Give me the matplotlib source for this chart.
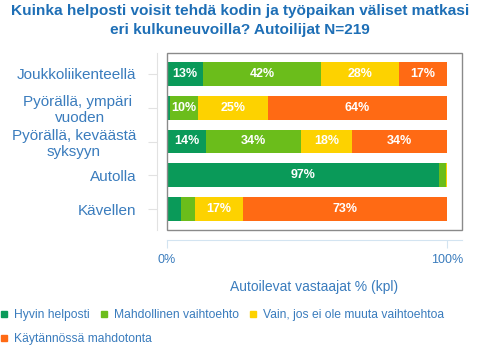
import matplotlib
matplotlib.use("Agg")
import matplotlib.pyplot as plt
from matplotlib.lines import Line2D
from matplotlib.patches import Rectangle

plt.rcParams['font.family'] = ['Liberation Sans', 'DejaVu Sans']

# ---------------------------------------------------------
# Data
# ---------------------------------------------------------
categories = ['Joukkoliikenteellä', 'Pyörällä, ympäri \nvuoden',
              'Pyörällä, keväästä\nsyksyyn', 'Autolla', 'Kävellen']
series_names = ['Hyvin helposti', 'Mahdollinen vaihtoehto',
                'Vain, jos ei ole muuta vaihtoehtoa', 'Käytännössä mahdotonta']
hyvin = [13, 1, 14, 97, 5]
mahdollinen = [42, 10, 34, 2.6, 5]
vain = [28, 25, 18, 0.4, 17]
mahdoton = [17, 64, 34, 0, 73]
x_ticks = [0, 100]
x_ticklabels = ['0%', '100%']

colors = ['#0a9a59', '#6bbd1b', '#fdd200', '#ff6a14']
title_col = '#1e6fb6'
text_col = '#3a7cbd'

# ---------------------------------------------------------
# Plot
# ---------------------------------------------------------
fig = plt.figure(figsize=(4.8, 3.51), dpi=100)
ax = fig.add_axes([167/480, 1-230/351, 295/480, 177/351])

ypos = list(range(len(categories)))
left = [0.0] * len(categories)
for vals, col, name in zip([hyvin, mahdollinen, vain, mahdoton], colors, series_names):
    bars = ax.barh(ypos, vals, left=left, height=0.71, color=col, label=name)
    for b, v in zip(bars, vals):
        if v >= 10:
            ax.text(b.get_x() + b.get_width()/2, b.get_y() + b.get_height()/2,
                    f'{v:.0f}%', ha='center', va='center', color='white',
                    fontsize=9, fontweight='bold')
    left = [l + v for l, v in zip(left, vals)]

ax.set_xlim(0, 100 * 295 / 280)
ax.set_ylim(4.62, -0.62)

ax.spines['top'].set_visible(False)
ax.spines['right'].set_visible(False)
ax.spines['left'].set_position(('outward', 7.2))
ax.spines['left'].set_color('#e2e2e2')
ax.spines['bottom'].set_position(('outward', 7.2))
ax.spines['bottom'].set_color('#d3e4f1')
ax.tick_params(axis='y', length=6.5, color='#e2e2e2', pad=8.5,
               labelcolor=text_col, labelsize=11)
ax.tick_params(axis='x', length=6, color='#d3e4f1', pad=4,
               labelcolor=text_col, labelsize=9)

ax.set_yticks(ypos)
ax.set_yticklabels(categories, linespacing=1.2, multialignment='center')
ax.set_xticks(x_ticks)
ax.set_xticklabels(x_ticklabels)

ax.add_patch(Rectangle((0, 0), 1, 1, transform=ax.transAxes, fill=False,
                       ec='#8a8a8a', lw=1, clip_on=False, zorder=5))

ax.set_xlabel('Autoilevat vastaajat % (kpl)', fontsize=10, color=text_col,
              labelpad=10)

fig.text(0.5, 1 - 4/351,
         'Kuinka helposti voisit tehdä kodin ja työpaikan väliset matkasi\n'
         'eri kulkuneuvoilla? Autoilijat N=219',
         ha='center', va='top', fontsize=11.1, fontweight='bold',
         color=title_col, linespacing=1.42)

handles = [Line2D([], [], marker='s', ls='none', color=c, markersize=5)
           for c in colors]
fig.legend(handles[:3], series_names[:3], ncol=3, loc='upper left',
           bbox_to_anchor=(0, 1 - 309/351), frameon=False, fontsize=8.7,
           labelcolor=text_col, handlelength=0.7, handletextpad=0.5,
           columnspacing=0.8, borderpad=0, borderaxespad=0)
fig.legend(handles[3:], series_names[3:], loc='upper left',
           bbox_to_anchor=(0, 1 - 333/351), frameon=False, fontsize=8.7,
           labelcolor=text_col, handlelength=0.7, handletextpad=0.5,
           borderpad=0, borderaxespad=0)

fig.savefig('out.png', dpi=100, facecolor='white')
